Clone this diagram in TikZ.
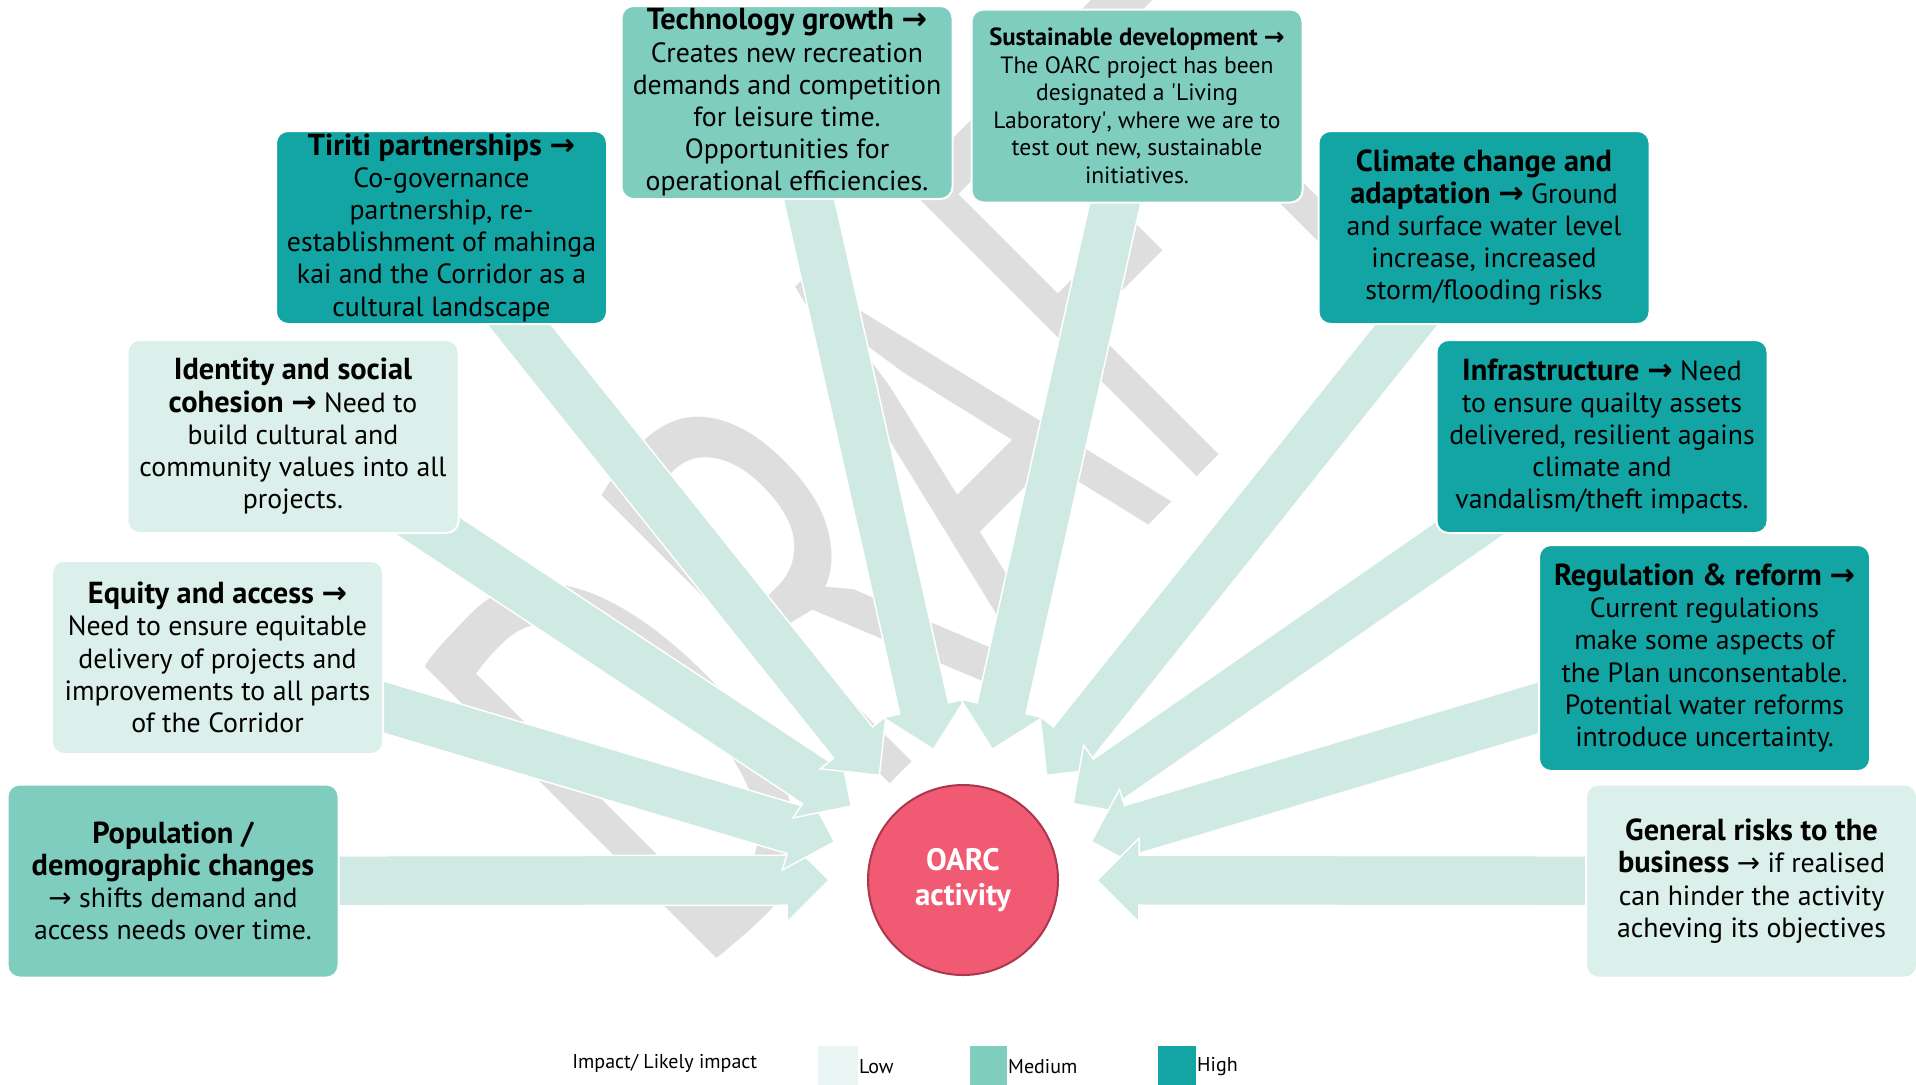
\documentclass[tikz,border=0pt]{standalone}
\usepackage{fontspec}
\setmainfont{PT Sans}
\newfontfamily\arrowfont{DejaVu Sans}
\usetikzlibrary{calc,backgrounds}
\definecolor{highimp}{RGB}{19,164,164}
\definecolor{medimp}{RGB}{127,205,191}
\definecolor{lowimp}{RGB}{219,239,235}
\definecolor{legendlow}{RGB}{234,246,243}
\definecolor{flow}{RGB}{207,233,227}
\definecolor{oarcred}{RGB}{240,90,115}
\definecolor{oarcedge}{RGB}{170,55,75}
\definecolor{draftgray}{RGB}{222,222,222}
\newcommand{\impto}{{\arrowfont →}}
\newcommand{\factorname}[1]{{\fontsize{15.2}{16.2}\selectfont\bfseries #1}}

\begin{document}
\begin{tikzpicture}[x=0.5pt,y=-0.5pt,
    factor/.style={rectangle,rounded corners=6pt,draw=white,line width=1pt,
      minimum width=165.5pt,minimum height=96.5pt,align=center,inner sep=1pt,
      font=\fontsize{13.9}{16.1}\selectfont},
    lowimpact/.style={factor,fill=lowimp},
    medimpact/.style={factor,fill=medimp},
    highimpact/.style={factor,fill=highimp},
    flowarrow/.style={fill=flow,draw=white,line width=.75pt},
    keybox/.style={anchor=north west,minimum width=20pt,minimum height=20pt,inner sep=0pt},
    keytext/.style={anchor=west,inner sep=0pt,font=\fontsize{10}{12}\selectfont}]
  \useasboundingbox (0,0) rectangle (1916,1084);

  % impacts
  \node[medimpact] (tec) at (787,102.5) {\factorname{Technology growth \impto}\\Creates new recreation\\demands and competition\\for leisure time.\\Opportunities for\\operational efficiencies.};
  \node[medimpact,font=\fontsize{11.8}{13.75}\selectfont] (sus) at (1137,106) {{\fontsize{12.4}{13.75}\selectfont\bfseries Sustainable development \impto}\\The OARC project has been\\designated a \textquotesingle Living\\Laboratory\textquotesingle, where we are to\\test out new, sustainable\\initiatives.};
  \node[highimpact] (tir) at (441.5,227.5) {\factorname{Tiriti partnerships \impto}\\Co-governance\\partnership, re-\\establishment of mahinga\\kai and the Corridor as a\\cultural landscape};
  \node[lowimpact] (ide) at (293,436.5) {\factorname{Identity and social}\\\factorname{cohesion \impto} Need to\\build cultural and\\community values into all\\projects.};
  \node[highimpact] (cli) at (1484,227.5) {\factorname{Climate change and}\\\factorname{adaptation \impto} Ground\\and surface water level\\increase, increased\\storm/flooding risks};
  \node[highimpact] (inf) at (1602,436.5) {\factorname{Infrastructure \impto} Need\\to ensure quailty assets\\delivered, resilient agains\\climate and\\vandalism/theft impacts.};
  \node[lowimpact] (equ) at (217.5,657.5) {\factorname{Equity and access \impto}\\Need to ensure equitable\\delivery of projects and\\improvements to all parts\\of the Corridor};
  \node[medimpact] (pop) at (173,881) {\factorname{Population /}\\\factorname{demographic changes}\\\impto{} shifts demand and\\access needs over time.};
  \node[highimpact,minimum height=113pt] (reg) at (1704.5,658) {\factorname{Regulation \& reform \impto}\\Current regulations\\make some aspects of\\the Plan unconsentable.\\Potential water reforms\\introduce uncertainty.};
  \node[lowimpact] (gen) at (1751.5,881) {\factorname{General risks to the}\\\factorname{business} \impto{} if realised\\can hinder the activity\\acheving its objectives};

  \node[circle,fill=oarcred,draw=oarcedge,line width=1pt,minimum size=95pt,text=white,
    align=center,font=\fontsize{15.5}{17.5}\selectfont\bfseries] (oarc) at (963,880) {OARC\\activity};

  \begin{pgfonlayer}{background}
    \node[text=draftgray,font=\fontsize{294}{300}\selectfont,rotate=45,xscale=.64,
      anchor=base west,inner sep=0pt] (draft) at (693,981) {DRAFT};
    \foreach \n in {pop,equ,ide,tir,tec,sus,cli,inf,reg,gen}{
      \coordinate (tip) at ($(oarc.center)!67pt!(\n.center)$);
      \coordinate (head) at ($(oarc.center)!88pt!(\n.center)$);
      \filldraw[flowarrow] ($(\n.center)!12.5pt!90:(oarc.center)$) -- ($(head)!12.5pt!90:(oarc.center)$)
        -- ($(head)!21pt!90:(oarc.center)$) -- (tip) -- ($(head)!21pt!-90:(oarc.center)$)
        -- ($(head)!12.5pt!-90:(oarc.center)$) -- ($(\n.center)!12.5pt!-90:(oarc.center)$) -- cycle;
    }
  \end{pgfonlayer}

  % legend
  \node[keytext] (legend) at (572,1063) {Impact/ Likely impact};
  \node[keybox,fill=legendlow] (lowkey) at (818,1046) {};
  \node[keytext] at (lowkey.east) {Low};
  \node[keybox,fill=medimp,minimum width=18.5pt] (medkey) at (970,1046) {};
  \node[keytext] at (medkey.east) {Medium};
  \node[keybox,fill=highimp,minimum width=19pt] (highkey) at (1158,1046) {};
  \node[keytext] at (highkey.east) {High};
\end{tikzpicture}
\end{document}
